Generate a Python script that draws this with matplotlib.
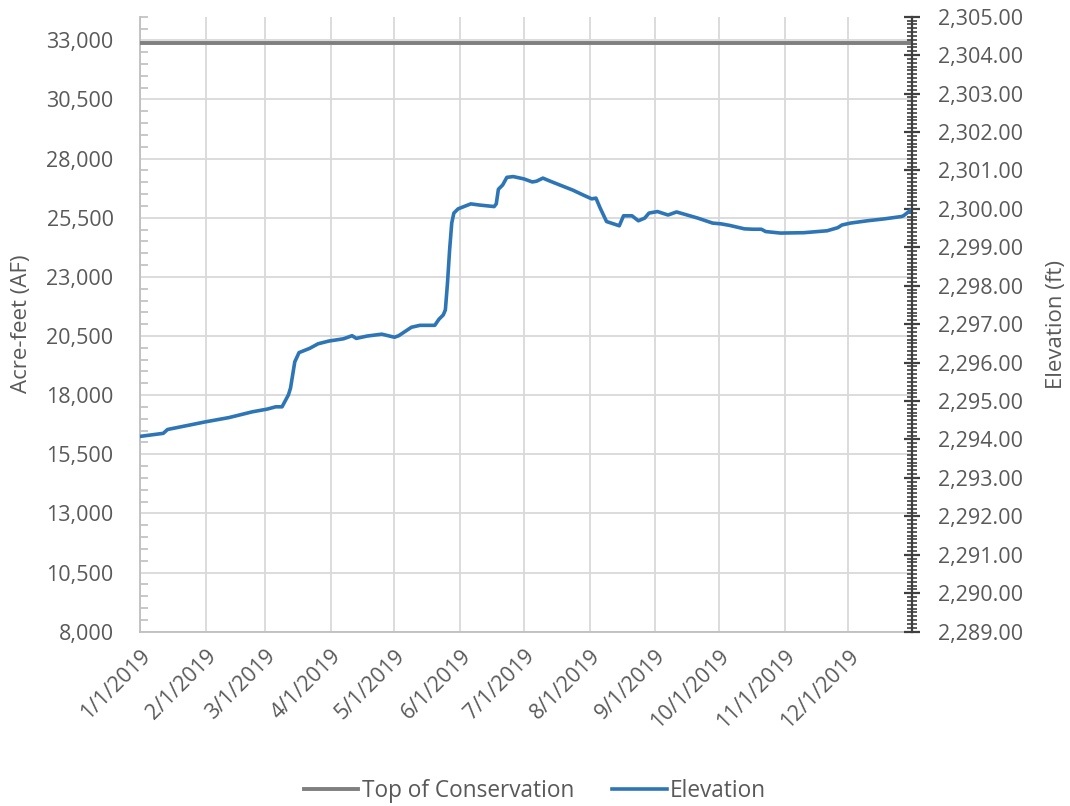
import matplotlib.pyplot as plt
import matplotlib.dates as mdates
from matplotlib.ticker import MultipleLocator, FixedLocator, FuncFormatter
import numpy as np
import pandas as pd

plt.rcParams['font.family'] = ['Open Sans', 'DejaVu Sans']

# Elevation (ft)
dates = ['2019-01-01', '2019-01-12', '2019-01-14', '2019-02-01', '2019-02-12', '2019-02-23',
         '2019-03-02', '2019-03-06', '2019-03-09', '2019-03-12', '2019-03-13', '2019-03-15',
         '2019-03-17', '2019-03-22', '2019-03-26', '2019-03-31', '2019-04-07', '2019-04-11',
         '2019-04-13', '2019-04-18', '2019-04-25', '2019-05-01', '2019-05-03', '2019-05-09',
         '2019-05-13', '2019-05-20', '2019-05-22', '2019-05-24', '2019-05-25', '2019-05-26',
         '2019-05-27', '2019-05-28', '2019-05-29', '2019-05-31', '2019-06-06', '2019-06-10',
         '2019-06-17', '2019-06-18', '2019-06-19', '2019-06-21', '2019-06-23', '2019-06-26',
         '2019-07-01', '2019-07-05', '2019-07-07', '2019-07-10', '2019-07-13', '2019-07-18',
         '2019-07-24', '2019-07-29', '2019-08-02', '2019-08-04', '2019-08-06', '2019-08-09',
         '2019-08-15', '2019-08-17', '2019-08-21', '2019-08-24', '2019-08-27', '2019-08-29',
         '2019-09-02', '2019-09-07', '2019-09-11', '2019-09-21', '2019-09-28', '2019-10-02',
         '2019-10-06', '2019-10-13', '2019-10-17', '2019-10-21', '2019-10-23', '2019-10-30',
         '2019-11-10', '2019-11-21', '2019-11-26', '2019-11-28', '2019-12-02', '2019-12-10',
         '2019-12-18', '2019-12-26', '2019-12-27', '2019-12-30', '2019-12-31']
elevation = [2294.08, 2294.16, 2294.26, 2294.46, 2294.57, 2294.72,
             2294.79, 2294.85, 2294.85, 2295.16, 2295.34, 2296.02,
             2296.26, 2296.37, 2296.49, 2296.56, 2296.62, 2296.70,
             2296.63, 2296.69, 2296.74, 2296.66, 2296.70, 2296.92,
             2296.97, 2296.97, 2297.13, 2297.24, 2297.37, 2298.07,
             2298.93, 2299.63, 2299.89, 2300.00, 2300.13, 2300.10,
             2300.06, 2300.13, 2300.51, 2300.62, 2300.82, 2300.84,
             2300.78, 2300.70, 2300.72, 2300.80, 2300.73, 2300.62,
             2300.49, 2300.36, 2300.26, 2300.28, 2300.02, 2299.67,
             2299.56, 2299.82, 2299.82, 2299.69, 2299.76, 2299.89,
             2299.93, 2299.84, 2299.92, 2299.76, 2299.63, 2299.61,
             2299.57, 2299.48, 2299.47, 2299.47, 2299.41, 2299.37,
             2299.38, 2299.43, 2299.51, 2299.58, 2299.63, 2299.69,
             2299.74, 2299.80, 2299.82, 2299.95, 2299.99]
top_of_conservation = 2304.32
af_ticks = [8000, 10500, 13000, 15500, 18000, 20500, 23000, 25500, 28000, 30500, 33000]

dates = pd.to_datetime(dates)
x_start = pd.Timestamp('2019-01-01')
x_end = pd.Timestamp('2019-12-31')

grey_txt = '#595959'
fig = plt.figure(figsize=(10.7, 8.06), dpi=100)
ax = fig.add_axes([0.1308, 0.2163, 0.7215, 0.763])
ax2 = ax.twinx()

# left axis (acre-feet), only scale + grid
ax.set_ylim(8000, 34000)
ax.yaxis.set_major_locator(FixedLocator(af_ticks))
ax.yaxis.set_minor_locator(FixedLocator(np.arange(8000, 34001, 500)))
ax.yaxis.set_major_formatter(FuncFormatter(lambda v, p: f'{v:,.0f}'))
ax.tick_params(axis='y', which='major', length=0, labelsize=15.5, labelcolor=grey_txt, pad=19)
ax.tick_params(axis='y', which='minor', direction='in', length=6, color='#bfbfbf', width=1.2)
ax.set_ylabel('Acre-feet (AF)', fontsize=16, color=grey_txt, labelpad=10)

ax.set_xlim(x_start, x_end)
ax.xaxis.set_major_locator(mdates.MonthLocator())
ax.xaxis.set_major_formatter(FuncFormatter(
    lambda v, p: (lambda d: f'{d.month}/{d.day}/{d.year}')(mdates.num2date(v))))
ax.tick_params(axis='x', length=0, labelsize=15.5, labelcolor=grey_txt, pad=10)
for lbl in ax.get_xticklabels():
    lbl.set_rotation(45)
    lbl.set_ha('right')
    lbl.set_va('top')
    lbl.set_rotation_mode('anchor')

ax.grid(True, which='major', color='#d9d9d9', linewidth=1.3)
ax.set_axisbelow(True)
for s in ['top', 'right']:
    ax.spines[s].set_visible(False)
ax.spines['left'].set_color('#bfbfbf')
ax.spines['bottom'].set_color('#bfbfbf')
ax.spines['left'].set_linewidth(1.3)
ax.spines['bottom'].set_linewidth(1.3)

# right axis (elevation)
ax2.set_ylim(2289, 2305)
ax2.yaxis.set_major_locator(MultipleLocator(1))
ax2.yaxis.set_minor_locator(MultipleLocator(0.1))
ax2.yaxis.set_major_formatter(FuncFormatter(lambda v, p: f'{v:,.2f}'))
ax2.tick_params(axis='y', which='major', direction='inout', length=12, width=1.6,
                color='#404040', labelsize=15.5, labelcolor=grey_txt, pad=13)
ax2.tick_params(axis='y', which='minor', direction='inout', length=7, width=1.2, color='#404040')
ax2.set_ylabel('Elevation (ft)', fontsize=16, color=grey_txt, labelpad=16)
for s in ['top', 'left', 'bottom']:
    ax2.spines[s].set_visible(False)
ax2.spines['right'].set_color('#404040')
ax2.spines['right'].set_linewidth(1.6)

ax2.axhline(top_of_conservation, color='#7f7f7f', linewidth=2.8, label='Top of Conservation')
ax2.plot(dates, elevation, color='#2e75b6', linewidth=2.6, label='Elevation')

h, l = ax2.get_legend_handles_labels()
fig.legend(h, l, loc='lower center', bbox_to_anchor=(0.5, -0.021), ncol=2, frameon=False,
           fontsize=16.3, labelcolor=grey_txt, handlelength=2.4, handletextpad=0.15,
           columnspacing=1.7)

fig.savefig('out.png', dpi=100)
